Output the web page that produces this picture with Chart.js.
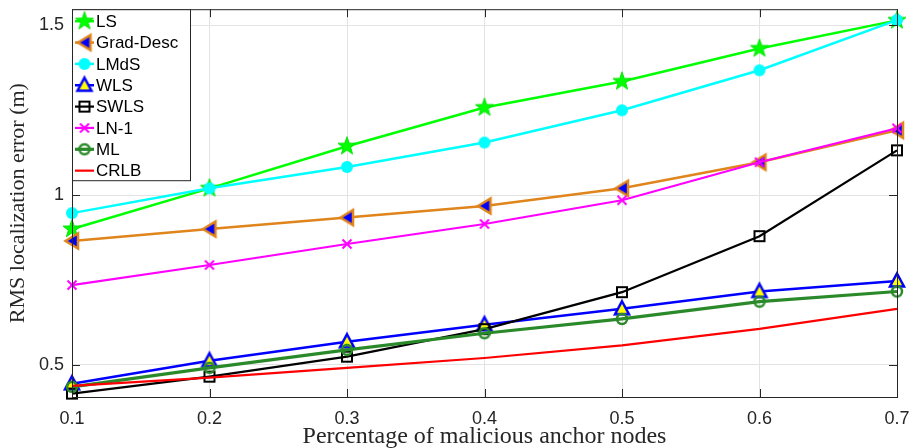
<!DOCTYPE html>
<html>
<head>
<meta charset="utf-8">
<script src="https://cdn.jsdelivr.net/npm/chart.js@4.4.0/dist/chart.umd.min.js"></script>
<style>
  body { margin: 0; background: #fff; }
  canvas { display: block; }
</style>
</head>
<body>
<canvas id="errChart" width="912" height="448"></canvas>
<script>
// x: share of malicious anchors, y: RMS error in metres
const ratios = [0.1, 0.2, 0.3, 0.4, 0.5, 0.6, 0.7];
const yTicks = [0.5, 1, 1.5];

const lsErr    = [0.900, 1.020, 1.144, 1.258, 1.335, 1.432, 1.515];
const gdErr    = [0.865, 0.900, 0.934, 0.968, 1.020, 1.097, 1.191];
const lmdsErr  = [0.947, 1.020, 1.083, 1.155, 1.250, 1.368, 1.516];
const wlsErr   = [0.444, 0.512, 0.568, 0.618, 0.665, 0.716, 0.747];
const swlsErr  = [0.415, 0.465, 0.524, 0.605, 0.714, 0.879, 1.132];
const ln1Err   = [0.735, 0.794, 0.856, 0.915, 0.985, 1.097, 1.197];
const mlErr    = [0.435, 0.491, 0.544, 0.593, 0.635, 0.686, 0.716];
const crlbErr  = [0.438, 0.462, 0.491, 0.520, 0.557, 0.606, 0.665];

const seriesNames = ['LS', 'Grad-Desc', 'LMdS', 'WLS', 'SWLS', 'LN-1', 'ML', 'CRLB'];

// small canvases used as point markers (matlab look)
function makeMarker(drawFn) {
    const c = document.createElement('canvas');
    c.width = 26; c.height = 26;
    const ctx = c.getContext('2d');
    ctx.translate(13, 13);
    drawFn(ctx);
    return c;
}

const starMark = makeMarker(ctx => {
    const R = 9.5, r = 3.8;
    ctx.beginPath();
    for (let i = 0; i < 10; i++) {
        const a = -Math.PI / 2 + i * Math.PI / 5;
        const rad = i % 2 === 0 ? R : r;
        ctx.lineTo(Math.cos(a) * rad, Math.sin(a) * rad);
    }
    ctx.closePath();
    ctx.fillStyle = '#00ff00';
    ctx.fill();
    ctx.strokeStyle = '#00e000';
    ctx.lineWidth = 1;
    ctx.stroke();
});

const leftTriMark = makeMarker(ctx => {
    ctx.beginPath();
    ctx.moveTo(-6.5, 0);
    ctx.lineTo(6, -7.5);
    ctx.lineTo(6, 7.5);
    ctx.closePath();
    ctx.fillStyle = '#0000ff';
    ctx.fill();
    ctx.strokeStyle = '#e0841c';
    ctx.lineWidth = 2.5;
    ctx.stroke();
});

const cyanDot = makeMarker(ctx => {
    ctx.beginPath();
    ctx.arc(0, 0, 6, 0, Math.PI * 2);
    ctx.fillStyle = '#00ffff';
    ctx.fill();
});

const upTriMark = makeMarker(ctx => {
    ctx.beginPath();
    ctx.moveTo(0, -7.5);
    ctx.lineTo(7, 5.5);
    ctx.lineTo(-7, 5.5);
    ctx.closePath();
    ctx.fillStyle = '#ffff00';
    ctx.fill();
    ctx.strokeStyle = '#0000ff';
    ctx.lineWidth = 2.5;
    ctx.stroke();
});

const squareMark = makeMarker(ctx => {
    ctx.strokeStyle = '#000000';
    ctx.lineWidth = 2;
    ctx.strokeRect(-5, -5, 10, 10);
});

const crossMark = makeMarker(ctx => {
    ctx.strokeStyle = '#ff00ff';
    ctx.lineWidth = 2;
    ctx.beginPath();
    ctx.moveTo(-4.5, -4.5); ctx.lineTo(4.5, 4.5);
    ctx.moveTo(4.5, -4.5); ctx.lineTo(-4.5, 4.5);
    ctx.stroke();
});

const ringMark = makeMarker(ctx => {
    ctx.beginPath();
    ctx.arc(0, 0, 5, 0, Math.PI * 2);
    ctx.strokeStyle = '#2a8a2a';
    ctx.lineWidth = 2.5;
    ctx.stroke();
});

function toPoints(vals) {
    return vals.map((v, i) => ({ x: ratios[i], y: v }));
}

const allSeries = [lsErr, gdErr, lmdsErr, wlsErr, swlsErr, ln1Err, mlErr, crlbErr];
const lineColors = ['#00ff00', '#e0841c', '#00ffff', '#0000ff', '#000000', '#ff00ff', '#2a8a2a', '#ff0000'];
const lineWidths = [2.5, 2.5, 2.5, 2.5, 2.2, 2.2, 3.2, 2.2];
const markers = [starMark, leftTriMark, cyanDot, upTriMark, squareMark, crossMark, ringMark, null];

const datasets = allSeries.map((vals, i) => ({
    label: seriesNames[i],
    data: toPoints(vals),
    borderColor: lineColors[i],
    borderWidth: lineWidths[i],
    backgroundColor: lineColors[i],
    pointStyle: markers[i] || 'circle',
    pointRadius: markers[i] ? 6 : 0,
    tension: 0,
    clip: false,
    order: allSeries.length - i   // later series on top, like matlab
}));

// axes box with inward tick marks on all sides
const axesBox = {
    id: 'axesBox',
    afterDatasetsDraw(chart) {
        const { ctx, chartArea: a, scales } = chart;
        ctx.save();
        ctx.strokeStyle = '#262626';
        ctx.lineWidth = 1;
        ctx.strokeRect(a.left + 0.5, a.top + 0.5, a.right - a.left, a.bottom - a.top);
        ctx.beginPath();
        const tl = 8;
        ratios.forEach(v => {
            const px = Math.round(scales.x.getPixelForValue(v)) + 0.5;
            ctx.moveTo(px, a.bottom); ctx.lineTo(px, a.bottom - tl);
            ctx.moveTo(px, a.top); ctx.lineTo(px, a.top + tl);
        });
        yTicks.forEach(v => {
            const py = Math.round(scales.y.getPixelForValue(v)) + 0.5;
            ctx.moveTo(a.left, py); ctx.lineTo(a.left + tl, py);
            ctx.moveTo(a.right, py); ctx.lineTo(a.right - tl, py);
        });
        ctx.stroke();
        ctx.restore();
    }
};

// matlab style legend in the upper left corner
const legendBox = {
    id: 'legendBox',
    afterDraw(chart) {
        const { ctx, chartArea: a } = chart;
        const x0 = a.left + 0.5, y0 = a.top + 0.5;
        const w = 118, h = 171;
        ctx.save();
        ctx.fillStyle = '#ffffff';
        ctx.fillRect(x0, y0, w, h);
        ctx.strokeStyle = '#262626';
        ctx.lineWidth = 1;
        ctx.strokeRect(x0, y0, w, h);
        ctx.font = '17px "Liberation Sans", Arial, sans-serif';
        ctx.textBaseline = 'middle';
        datasets.forEach((ds, i) => {
            const cy = a.top + 12 + i * 21.35;
            ctx.strokeStyle = ds.borderColor;
            ctx.lineWidth = ds.borderWidth;
            ctx.beginPath();
            ctx.moveTo(a.left + 3, cy);
            ctx.lineTo(a.left + 22, cy);
            ctx.stroke();
            if (markers[i]) {
                const m = markers[i];
                ctx.drawImage(m, a.left + 12.5 - m.width / 2, cy - m.height / 2);
            }
            ctx.fillStyle = '#000000';
            ctx.fillText(ds.label, a.left + 24, cy + 1);
        });
        ctx.restore();
    }
};

const tickFont = { family: '"Liberation Sans", Arial, sans-serif', size: 18 };
const serif = '"Liberation Serif", "Times New Roman", serif';

new Chart(document.getElementById('errChart').getContext('2d'), {
    type: 'line',
    data: { datasets: datasets },
    options: {
        responsive: false,
        animation: false,
        layout: { padding: { top: 9, right: 15, left: 0, bottom: 0 } },
        plugins: {
            legend: { display: false },
            tooltip: { enabled: false }
        },
        scales: {
            x: {
                type: 'linear',
                min: 0.1,
                max: 0.7,
                afterBuildTicks: s => { s.ticks = ratios.map(v => ({ value: v })); },
                afterFit: s => { s.height = 51; s.paddingLeft = 0; s.paddingRight = 0; },
                ticks: {
                    color: '#262626',
                    font: tickFont,
                    padding: 11,
                    maxRotation: 0,
                    callback: v => v.toFixed(1)
                },
                grid: { color: '#e3e3e3', drawTicks: false },
                border: { display: false },
                title: {
                    display: true,
                    text: 'Percentage of malicious anchor nodes',
                    color: '#262626',
                    font: { family: serif, size: 24 },
                    padding: { top: 0, bottom: -3 }
                }
            },
            y: {
                type: 'linear',
                min: 0.405,
                max: 1.548,
                afterBuildTicks: s => { s.ticks = yTicks.map(v => ({ value: v })); },
                afterFit: s => { s.width = 72; s.paddingTop = 0; s.paddingBottom = 0; },
                ticks: {
                    color: '#262626',
                    font: tickFont,
                    padding: 8,
                    callback: v => String(v)
                },
                grid: { color: '#e3e3e3', drawTicks: false },
                border: { display: false },
                title: {
                    display: true,
                    text: 'RMS localization error (m)',
                    color: '#262626',
                    font: { family: serif, size: 22 },
                    padding: { top: 5, bottom: 0 }
                }
            }
        }
    },
    plugins: [axesBox, legendBox]
});
</script>
</body>
</html>
